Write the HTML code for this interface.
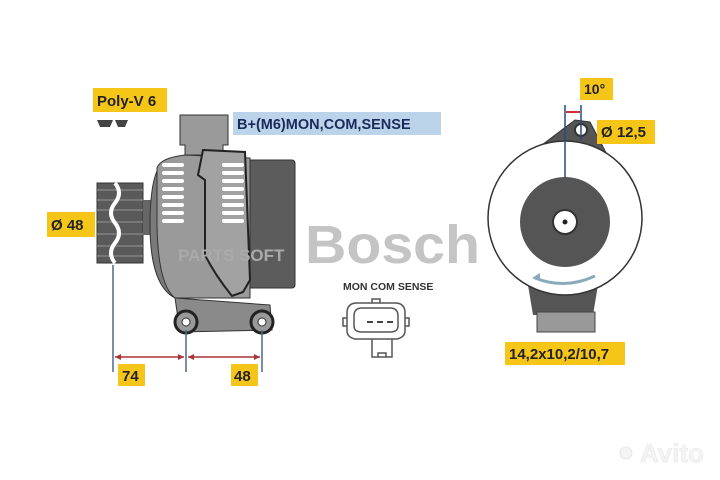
<!DOCTYPE html>
<html><head><style>
body{margin:0;background:#fff;}
svg{display:block;}
text{font-family:"Liberation Sans",sans-serif;font-weight:bold;}
</style></head><body>
<svg width="720" height="480" viewBox="0 0 720 480" xmlns="http://www.w3.org/2000/svg">
<rect width="720" height="480" fill="#fff"/>
<!-- watermarks -->
<text x="305" y="263" font-size="54" fill="#c4c4c4" font-weight="bold" textLength="175" lengthAdjust="spacingAndGlyphs">Bosch</text>
<circle cx="262" cy="238" r="18" fill="none" stroke="#ccc" stroke-width="5"/>
<!-- Poly-V -->
<rect x="93" y="88" width="74" height="24" fill="#f5c518"/>
<text x="97" y="106" font-size="15" fill="#222">Poly-V 6</text>
<path d="M97 120h16l-3 7h-10zM115 120h13l-3 7h-7z" fill="#444"/>
<!-- blue label -->
<rect x="233" y="112" width="208" height="23" fill="#bcd4ea"/>
<text x="237" y="129" font-size="14.5" fill="#1a2a5a">B+(M6)MON,COM,SENSE</text>
<!-- Ø48 -->
<rect x="47" y="212" width="48" height="25" fill="#f5c518"/>
<text x="51" y="230" font-size="15" fill="#222">Ø 48</text>
<!-- pulley -->
<rect x="97" y="183" width="46" height="80" fill="#5a5a5a" stroke="#333"/>
<path d="M97 190h46M97 200h46M97 210h46M97 222h46M97 234h46M97 246h46M97 256h46" stroke="#777" stroke-width="2"/>
<path d="M115 183q8 10 0 20q-8 10 0 20q8 10 0 20q-8 10 0 20" stroke="#fff" stroke-width="4" fill="none"/>
<rect x="143" y="200" width="8" height="35" fill="#666"/>
<!-- body -->
<rect x="245" y="160" width="50" height="128" rx="3" fill="#5c5c5c" stroke="#333"/>
<path d="M165 160 Q150 170 150 225 Q150 285 175 298 L245 298 L250 160 Z" fill="#7a7a7a" stroke="#333"/>
<path d="M157 168 Q160 158 185 155 L250 158 L250 298 L175 298 Q158 285 157 225 Z" fill="#9a9a9a" stroke="#333"/>
<path d="M180 115h48v30h-5v10h-38v-10h-5z" fill="#9a9a9a" stroke="#333"/>
<path d="M203 150 L245 152 L250 280 L243 292 L232 296 Q215 275 205 255 L205 180 L198 175 Z" fill="#a2a2a2" stroke="#222" stroke-width="2"/>
<g fill="#fff">
<rect x="162" y="163" width="22" height="4" rx="2"/><rect x="162" y="171" width="22" height="4" rx="2"/><rect x="162" y="179" width="22" height="4" rx="2"/><rect x="162" y="187" width="22" height="4" rx="2"/><rect x="162" y="195" width="22" height="4" rx="2"/><rect x="162" y="203" width="22" height="4" rx="2"/><rect x="162" y="211" width="22" height="4" rx="2"/><rect x="162" y="219" width="22" height="4" rx="2"/>
<rect x="222" y="163" width="22" height="4" rx="2"/><rect x="222" y="171" width="22" height="4" rx="2"/><rect x="222" y="179" width="22" height="4" rx="2"/><rect x="222" y="187" width="22" height="4" rx="2"/><rect x="222" y="195" width="22" height="4" rx="2"/><rect x="222" y="203" width="22" height="4" rx="2"/><rect x="222" y="211" width="22" height="4" rx="2"/><rect x="222" y="219" width="22" height="4" rx="2"/>
</g>
<path d="M175 298 L270 305 L272 330 L180 332 Z" fill="#8a8a8a" stroke="#333"/>
<circle cx="186" cy="322" r="11" fill="#999" stroke="#222" stroke-width="3"/><circle cx="186" cy="322" r="4" fill="#fff" stroke="#333"/>
<circle cx="262" cy="322" r="11" fill="#999" stroke="#222" stroke-width="3"/><circle cx="262" cy="322" r="4" fill="#fff" stroke="#333"/>
<text x="178" y="261" font-size="17" fill="#aaa" font-weight="normal">PARTS SOFT</text>
<!-- dims -->
<path d="M113 265V372M186 330V372M262 330V372" stroke="#4a6a8a" stroke-width="1.5"/>
<path d="M115 357H184M188 357H260" stroke="#a33" stroke-width="1.5"/>
<path d="M115 357l6-3v6zM184 357l-6-3v6zM188 357l6-3v6zM260 357l-6-3v6z" fill="#a33"/>
<rect x="118" y="364" width="27" height="22" fill="#f5c518"/><text x="122" y="381" font-size="15" fill="#222">74</text>
<rect x="231" y="364" width="27" height="22" fill="#f5c518"/><text x="234" y="381" font-size="15" fill="#222">48</text>
<!-- connector -->
<text x="343" y="290" font-size="10.5" fill="#333" font-weight="normal">MON COM SENSE</text>
<g fill="none" stroke="#555" stroke-width="1.5">
<path d="M357 303 h38 q10 0 10 10 v18 q0 6 -8 8 h-42 q-8 -2 -8 -8 v-18 q0 -10 10 -10z"/>
<path d="M362 308 h28 q8 0 8 8 v10 q0 6 -8 6 h-28 q-8 0 -8 -6 v-10 q0 -8 8 -8z"/>
<path d="M372 339 v18 h20 v-18M378 357 v-4 h8 v4"/>
<path d="M347 318 h-4 v8 h4M405 318 h4 v8 h-4M372 303 v-4 h8 v4"/>
</g>
<path d="M367 322h6M377 322h6M387 322h6" stroke="#444" stroke-width="2"/>
<!-- right view -->
<path d="M522 160 L575 120 L590 122 L615 170 L560 150 Z" fill="#555" stroke="#333"/>
<path d="M528 285 h70 l-5 30 h-60 z" fill="#555"/>
<rect x="537" y="312" width="58" height="20" fill="#999" stroke="#444"/>
<circle cx="565" cy="218" r="77" fill="#fff" stroke="#333" stroke-width="1.5"/>
<circle cx="565" cy="222" r="45" fill="#555"/>
<circle cx="565" cy="222" r="12" fill="#fff" stroke="#333" stroke-width="2"/>
<circle cx="565" cy="222" r="2.5" fill="#222"/>
<circle cx="581" cy="130" r="6" fill="#fff" stroke="#333" stroke-width="2"/>
<path d="M565 105V178M581 105V140" stroke="#2a4a7a" stroke-width="1.5"/>
<path d="M566 112H580" stroke="#c33" stroke-width="2"/>
<path d="M535 278 q30 12 60 -2" fill="none" stroke="#8ab" stroke-width="3"/>
<path d="M532 278l8-5v8z" fill="#8ab"/>
<rect x="580" y="78" width="33" height="22" fill="#f5c518"/><text x="584" y="94" font-size="14" fill="#222">10°</text>
<rect x="597" y="120" width="58" height="24" fill="#f5c518"/><text x="601" y="137" font-size="15" fill="#222">Ø 12,5</text>
<rect x="505" y="342" width="120" height="23" fill="#f5c518"/><text x="509" y="359" font-size="15" fill="#222">14,2x10,2/10,7</text>
<text x="640" y="462" font-size="26" fill="#f4f4f4" stroke="#e6e6e6" stroke-width="0.6">Avito</text>
<circle cx="626" cy="453" r="6" fill="#f4f4f4" stroke="#e6e6e6"/>
</svg>
</body></html>
